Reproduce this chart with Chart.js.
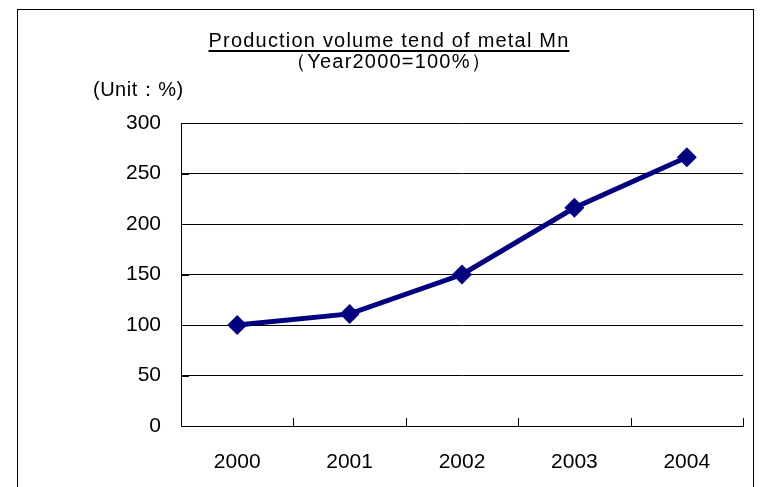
<!DOCTYPE html>
<html>
<head>
<meta charset="utf-8">
<script src="https://cdn.jsdelivr.net/npm/chart.js@4"></script>
<style>
  html, body { margin: 0; padding: 0; background: #fff; }
  #wrap { width: 760px; height: 487px; position: relative; }
</style>
</head>
<body>
<div id="wrap"><canvas id="chart" width="760" height="487"></canvas></div>
<script>
var years = ["2000", "2001", "2002", "2003", "2004"];
var volume = [100, 111, 150, 216, 266];
var yTicks = [0, 50, 100, 150, 200, 250, 300];
var titleText = "Production volume tend of metal Mn";
var subtitleText = "（Year2000=100%）";
var unitText = "(Unit：%)";

var fontName = "'Liberation Sans', Arial, sans-serif";

// frame, titles, unit label and inward tick marks
var decor = {
    id: "decor",
    beforeDraw: function (chart) {
        var ctx = chart.ctx;
        ctx.save();
        ctx.fillStyle = "#fff";
        ctx.fillRect(0, 0, chart.width, chart.height);
        ctx.strokeStyle = "#000";
        ctx.lineWidth = 1;
        ctx.strokeRect(17.5, 9.5, 736, 500);
        ctx.restore();
    },
    afterDraw: function (chart) {
        var ctx = chart.ctx;
        var area = chart.chartArea;
        var x = chart.scales.x;
        var y = chart.scales.y;
        ctx.save();
        ctx.fillStyle = "#000";
        ctx.textAlign = "center";
        ctx.textBaseline = "alphabetic";
        ctx.font = "20px " + fontName;
        ctx.letterSpacing = "1.2px";
        var cx = 389;
        ctx.fillText(titleText, cx, 47);
        var w = ctx.measureText(titleText).width;
        ctx.fillRect(cx - w / 2, 50, w, 2);
        ctx.fillText(subtitleText, cx, 68);
        ctx.letterSpacing = "0.5px";
        ctx.textAlign = "left";
        ctx.fillText(unitText, 93, 96);
        ctx.letterSpacing = "0px";

        ctx.strokeStyle = "#000";
        ctx.lineWidth = 1;
        ctx.beginPath();
        for (var i = 1; i <= years.length; i++) {
            var px = Math.round(x.getPixelForValue(i - 0.5)) + 0.5;
            ctx.moveTo(px, area.bottom);
            ctx.lineTo(px, area.bottom - 8);
        }
        yTicks.forEach(function (v) {
            var py = Math.round(y.getPixelForValue(v)) + 0.5;
            ctx.moveTo(area.left, py);
            ctx.lineTo(area.left + 8, py);
        });
        ctx.stroke();
        ctx.restore();
    }
};

new Chart(document.getElementById("chart"), {
    type: "line",
    data: {
        labels: years,
        datasets: [{
            data: volume,
            borderColor: "#000080",
            backgroundColor: "#000080",
            borderWidth: 5,
            pointStyle: "rectRot",
            pointRadius: 10,
            pointBorderWidth: 0,
            tension: 0,
            fill: false
        }]
    },
    plugins: [decor],
    options: {
        responsive: false,
        animation: false,
        devicePixelRatio: 1,
        layout: { padding: { top: 123, right: 17, left: 0, bottom: 0 } },
        plugins: {
            legend: { display: false },
            title: { display: false },
            tooltip: { enabled: false }
        },
        scales: {
            x: {
                offset: true,
                grid: { display: false },
                border: { display: true, color: "#000", width: 1 },
                ticks: {
                    color: "#000",
                    font: { family: fontName, size: 21 },
                    padding: 16
                },
                afterFit: function (s) { s.height = 61; }
            },
            y: {
                min: 0,
                max: 300,
                afterBuildTicks: function (s) {
                    s.ticks = yTicks.map(function (v) { return { value: v }; });
                },
                grid: { color: "#000", lineWidth: 1, drawTicks: false },
                border: { display: true, color: "#000", width: 1 },
                ticks: {
                    color: "#000",
                    font: { family: fontName, size: 21 },
                    padding: 20
                },
                afterFit: function (s) { s.width = 181; }
            }
        }
    }
});
</script>
</body>
</html>
